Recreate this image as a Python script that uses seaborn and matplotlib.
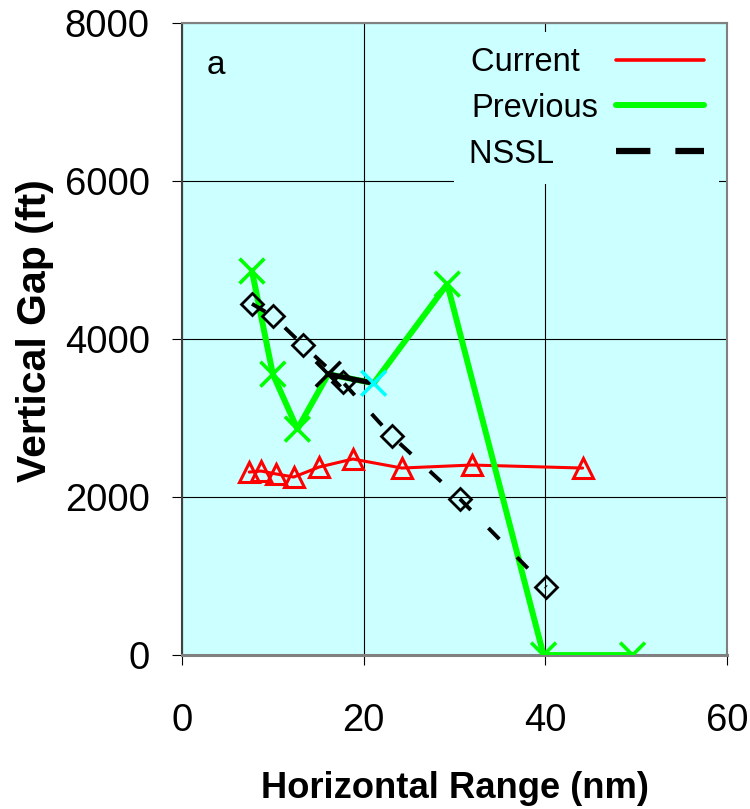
import matplotlib
matplotlib.use("Agg")
import matplotlib.pyplot as plt
import seaborn as sns
from matplotlib.lines import Line2D

# ---- data ----
current_x = [7.4, 8.7, 10.4, 12.3, 15.1, 18.8, 24.2, 31.9, 44.1]
current_y = [2316, 2329, 2291, 2253, 2380, 2481, 2367, 2405, 2367]

previous_x = [7.7, 10.0, 12.7, 16.1, 21.1, 29.2, 39.8, 49.6]
previous_y = [4860, 3555, 2860, 3555, 3440, 4695, 0, 0]
previous_point_colors = ["#00FF00", "#00FF00", "#00FF00", "#000000",
                         "#00FFFF", "#00FF00", "#00FF00", "#00FF00"]

nssl_x = [7.7, 10.0, 13.3, 17.7, 23.1, 30.6, 40.1]
nssl_y = [4445, 4290, 3925, 3455, 2770, 1975, 860]

x_ticks = [0, 20, 40, 60]
y_ticks = [0, 2000, 4000, 6000, 8000]
series_labels = ["Current", "Previous", "NSSL"]

# ---- styling ----
sns.set_style("white")
plt.rcParams["font.family"] = ["Liberation Sans", "DejaVu Sans"]
plt.rcParams["text.color"] = "black"
plt.rcParams["axes.labelcolor"] = "black"
plt.rcParams["xtick.color"] = "black"
plt.rcParams["ytick.color"] = "black"

BG = "#CCFFFF"
RED = "#FF0000"
GREEN = "#00FF00"

fig = plt.figure(figsize=(7.5, 8.09), dpi=100)
ax = fig.add_axes([0.2427, 0.1903, 0.7267, 0.7813])
ax.set_facecolor(BG)

# Current
sns.lineplot(x=current_x, y=current_y, sort=False, ax=ax, color=RED,
             linewidth=2.2, marker="^", markersize=15, markerfacecolor="none",
             markeredgecolor=RED, markeredgewidth=2.2, zorder=3)

# Previous
sns.lineplot(x=previous_x, y=previous_y, sort=False, ax=ax, color=GREEN,
             linewidth=4.3, zorder=4)
sns.lineplot(x=previous_x[3:5], y=previous_y[3:5], sort=False, ax=ax,
             color="black", linewidth=3.8, zorder=4.1)
sns.scatterplot(x=previous_x, y=previous_y, hue=previous_point_colors,
                palette={c: c for c in previous_point_colors}, marker="x",
                s=320, linewidth=2.6, legend=False, ax=ax, zorder=4.2)

# NSSL
sns.lineplot(x=nssl_x, y=nssl_y, sort=False, ax=ax, color="black",
             linewidth=2.8, dashes=False, zorder=5)
ax.lines[-1].set_dashes((4, 6.5))
sns.lineplot(x=nssl_x, y=nssl_y, sort=False, ax=ax, color="black",
             linewidth=0, marker="D", markersize=11.5, markerfacecolor="none",
             markeredgecolor="black", markeredgewidth=2.0, zorder=5.1)

ax.set_xlim(0, 60)
ax.set_ylim(0, 8000)
ax.set_xticks(x_ticks)
ax.set_yticks(y_ticks)
ax.grid(True, color="black", linewidth=0.8)
ax.set_axisbelow(True)

for side in ["top", "right", "left", "bottom"]:
    ax.spines[side].set_color("#808080")
    ax.spines[side].set_linewidth(1.5)
ax.spines["bottom"].set_linewidth(2.2)
ax.spines["left"].set_color("#404040")

ax.tick_params(axis="both", direction="out", length=7.2, width=0.8,
               color="black", labelcolor="black", labelsize=27.5,
               left=True, bottom=True)
ax.tick_params(axis="y", pad=16)
ax.tick_params(axis="x", pad=27)

ax.set_xlabel("Horizontal Range (nm)", fontsize=26.2, fontweight="bold")
ax.set_ylabel("Vertical Gap (ft)", fontsize=29.5, fontweight="bold")
ax.xaxis.set_label_coords(0.5, -0.183)
ax.yaxis.set_label_coords(-0.235, 0.514)

ax.text(0.045, 0.932, "a", transform=ax.transAxes, fontsize=24,
        va="center", ha="left")

handles = [
    Line2D([], [], color=RED, linewidth=2.6),
    Line2D([], [], color=GREEN, linewidth=4.3),
    Line2D([], [], color="black", linewidth=4.5, dashes=(5.5, 4)),
]
labels = ["Current  ", "Previous", "NSSL     "]
leg = ax.legend(handles, labels, loc="upper right",
                bbox_to_anchor=(0.985, 0.985), borderaxespad=0,
                markerfirst=False, fontsize=23.5, frameon=True,
                facecolor=BG, edgecolor="none", framealpha=1,
                fancybox=False, handlelength=2.7, handletextpad=0.55,
                labelspacing=0.45, borderpad=0.45)
leg.set_zorder(6)

fig.savefig("out.png", dpi=100)
